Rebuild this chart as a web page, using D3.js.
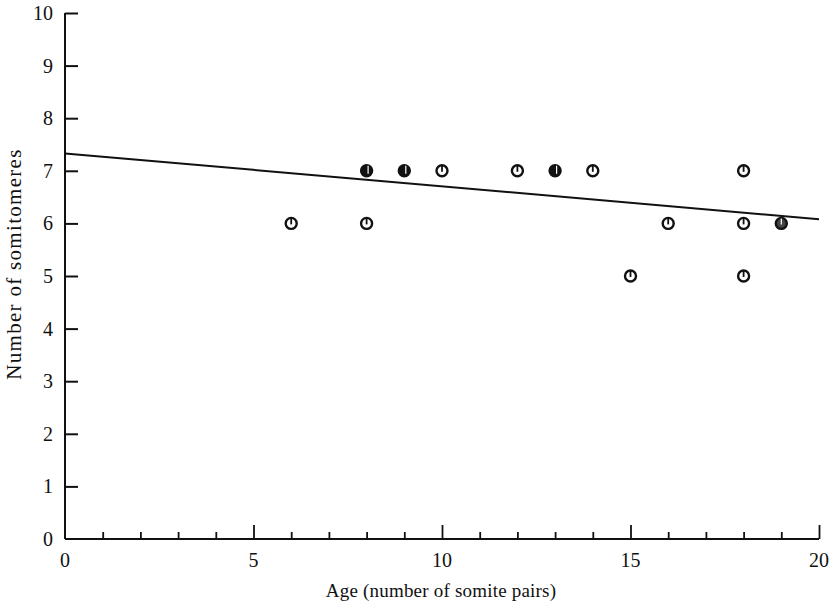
<!DOCTYPE html>
<html><head><meta charset="utf-8">
<script src="https://cdn.jsdelivr.net/npm/d3@7"></script>
<style>body{margin:0;background:#fff}svg{display:block}text{font-family:"Liberation Serif","Times New Roman",serif;fill:#111}</style>
</head><body><svg id="c" width="834" height="607"></svg>
<script>
const ages =        [6, 8, 8, 9, 10, 12, 13, 14, 15, 16, 18, 18, 18, 19];
const somitomeres = [6, 7, 6, 7, 7,  7,  7,  7,  5,  6,  7,  6,  5,  6];
const filled =      [0, 1, 0, 1, 0,  0,  1,  0,  0,  0,  0,  0,  0,  2];
const fitLine = {x: [0, 20], y: [7.33, 6.08]};
const xTicks = [0, 5, 10, 15, 20];
const yTicks = [0,1,2,3,4,5,6,7,8,9,10];
const xLabel = "Age (number of somite pairs)";
const yLabel = "Number of somitomeres";

const svg = d3.select("#c");
const x = d3.scaleLinear().domain([0,20]).range([65,819]);
const y = d3.scaleLinear().domain([0,10]).range([539,13]);
const ink = "#111";

svg.append("line").attr("x1",x(0)).attr("x2",x(20)).attr("y1",y(0)).attr("y2",y(0)).attr("stroke",ink).attr("stroke-width",2);
svg.append("line").attr("x1",x(0)).attr("x2",x(0)).attr("y1",y(0)).attr("y2",y(10)).attr("stroke",ink).attr("stroke-width",2);

const yAxis = d3.axisRight(y).tickValues(yTicks.filter(d=>d>0)).tickSize(13).tickFormat("");
const gy = svg.append("g").attr("transform",`translate(${x(0)},0)`).call(yAxis);
gy.select(".domain").remove();
gy.selectAll(".tick line").attr("stroke",ink).attr("stroke-width",2);
yTicks.forEach(v=>{
  svg.append("text").attr("x",x(0)-12).attr("y",y(v)).attr("dy","0.35em").attr("text-anchor","end").attr("font-size",20).text(v);
});

const minor = d3.range(1,21);
const gx = svg.append("g").attr("transform",`translate(0,${y(0)})`)
  .call(d3.axisTop(x).tickValues(minor).tickSizeInner(7).tickSizeOuter(0).tickFormat(""));
gx.select(".domain").remove();
gx.selectAll(".tick line").attr("stroke",ink).attr("stroke-width",1.8)
  .attr("y2",d=> d%5===0 ? -14 : -7);
xTicks.forEach(v=>{
  svg.append("text").attr("x",x(v)).attr("y",y(0)+28).attr("text-anchor","middle").attr("font-size",20).text(v);
});

svg.append("text").attr("x",441).attr("y",597).attr("text-anchor","middle")
  .attr("font-size",19).attr("letter-spacing","0.2px").text(xLabel);
svg.append("text").attr("transform",`translate(21,${264}) rotate(-90)`).attr("text-anchor","middle")
  .attr("font-size",21).attr("letter-spacing","1.3px").text(yLabel);

svg.append("line").attr("x1",x(fitLine.x[0])).attr("y1",y(fitLine.y[0]))
  .attr("x2",x(fitLine.x[1])).attr("y2",y(fitLine.y[1])).attr("stroke",ink).attr("stroke-width",2);

const pts = ages.map((a,i)=>({a, s: somitomeres[i], f: filled[i]}));
const g = svg.append("g").selectAll("g").data(pts).join("g")
  .attr("transform",d=>`translate(${x(d.a)},${y(d.s)})`);
g.append("circle").attr("r",5.5).attr("fill",d=>d.f===1?ink:(d.f===2?"#444":"#fff"))
  .attr("stroke",ink).attr("stroke-width",2.4);
g.append("line").attr("x1",d=>d.f===1?1.5:0).attr("x2",d=>d.f===1?1.5:0).attr("y1",-5).attr("y2",d=>d.f===1?3:1)
  .attr("stroke",d=>d.f?"#fff":ink).attr("stroke-width",d=>d.f?1.2:1.8);
</script></body></html>
